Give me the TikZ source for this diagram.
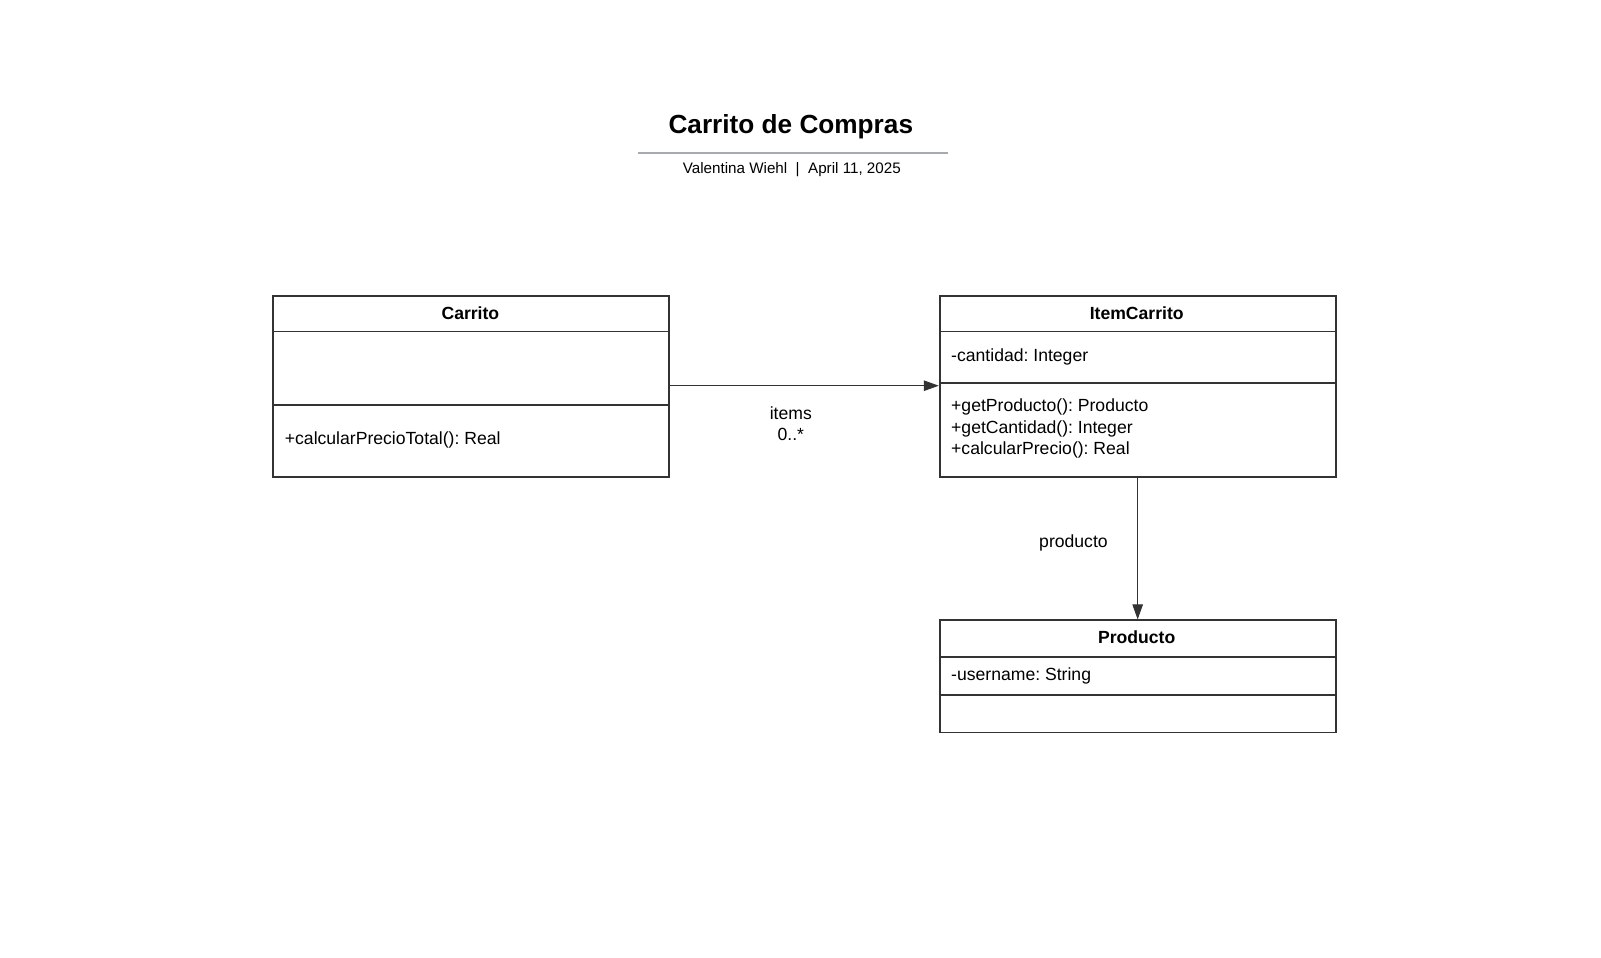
\documentclass[tikz,border=0pt]{standalone}
\usepackage{fontspec}
\setmainfont{Liberation Sans}
\frenchspacing
\usetikzlibrary{arrows.meta}
\definecolor{edge}{HTML}{333333}
\definecolor{rule}{HTML}{A6AAB4}
\begin{document}
\begin{tikzpicture}[x=1.0204pt,y=-1.0204pt,
  box/.style={draw=edge,line width=1.8pt},
  sep/.style={draw=edge,line width=1.7pt},
  conn/.style={draw=edge,line width=1pt,-{Triangle[length=15pt,width=10.5pt]}},
  txt/.style={font=\fontsize{17.6}{21.4}\selectfont,inner sep=0pt},
  hdr/.style={font=\bfseries\fontsize{17.6}{21.4}\selectfont,inner sep=0pt},
  lbl/.style={font=\fontsize{17.6}{21.4}\selectfont,inner sep=0pt,align=center}]
\useasboundingbox[fill=white] (0,0) rectangle (1569,937.9);
% title
\node[font=\bfseries\fontsize{26.2}{31}\selectfont,inner sep=0pt] (title) at (775,124) {Carrito de Compras};
\draw[rule,line width=1.6pt] (625,150) coordinate (rl) -- (929,150) coordinate (rr);
\node[font=\fontsize{15.2}{18}\selectfont,inner sep=0pt] (sub) at (776,166.5) {Valentina Wiehl \ | \ April 11, 2025};
% Carrito
\node[box,minimum width=396pt,minimum height=181.6pt,inner sep=0pt,anchor=north west] (carrito) at (267,289) {};
\draw[sep] (267,325) -- (655,325);
\draw[sep] (267,397) -- (655,397);
\node[hdr] (carritoN) at (461,306.5) {Carrito};
\node[txt,anchor=west] (carritoM) at (279,431.5) {+calcularPrecioTotal(): Real};
% ItemCarrito
\node[box,minimum width=396pt,minimum height=181.6pt,inner sep=0pt,anchor=north west] (item) at (920,289) {};
\draw[sep] (920,325) -- (1308,325);
\draw[sep] (920,375) -- (1308,375);
\node[hdr] (itemN) at (1114,306.5) {ItemCarrito};
\node[txt,anchor=west] (itemA) at (932,350) {-cantidad: Integer};
\node[txt,anchor=west,align=left] (itemM) at (932,420) {+getProducto(): Producto\\+getCantidad(): Integer\\+calcularPrecio(): Real};
% Producto
\node[box,minimum width=396pt,minimum height=112.2pt,inner sep=0pt,anchor=north west] (prod) at (920,607) {};
\draw[sep] (920,644) -- (1308,644);
\draw[sep] (920,681) -- (1308,681);
\node[hdr] (prodN) at (1114,624.5) {Producto};
\node[txt,anchor=west] (prodA) at (932,662.5) {-username: String};
% connectors
\draw[conn] (carrito.east |- 0,378) -- (item.west |- 0,378);
\node[lbl] (l1) at (775,415) {items\\0..*};
\draw[conn] (item.south) -- (prod.north);
\node[txt] (l2) at (1052,532.5) {producto};
\end{tikzpicture}
\end{document}
